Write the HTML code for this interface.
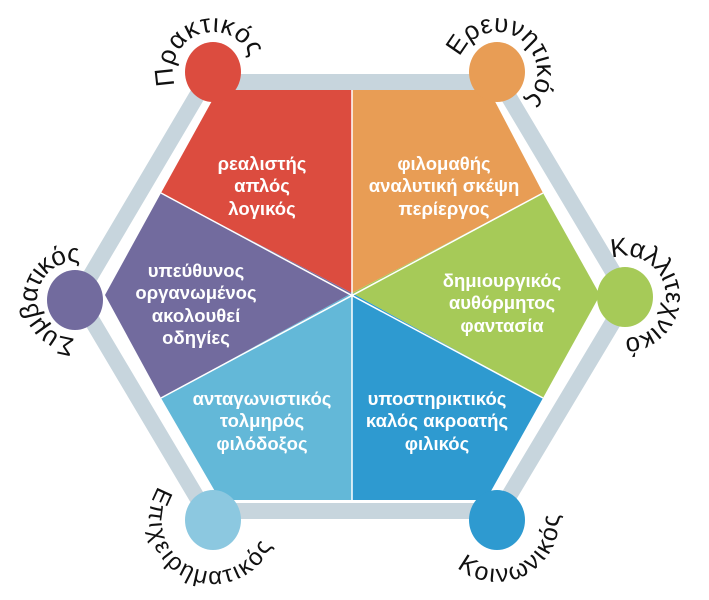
<!DOCTYPE html>
<html><head><meta charset="utf-8"><style>
html,body{margin:0;padding:0;background:#fff;}
svg{display:block;}
.c{font-family:"Liberation Sans",sans-serif;font-weight:bold;font-size:18.5px;fill:#fff;text-anchor:middle;}
.l{font-family:"Liberation Sans",sans-serif;font-size:26px;fill:#111;}
</style></head><body>
<svg width="709" height="600" viewBox="0 0 709 600" xmlns="http://www.w3.org/2000/svg">
<defs>
<path id="pR" d="M213,112 A40,40 0 1 1 213,32 A40,40 0 1 1 213,112"/>
<path id="pO" d="M497,112 A40,40 0 1 1 497,32 A40,40 0 1 1 497,112"/>
<path id="pP" d="M75,338 A38,38 0 1 1 75,262 A38,38 0 1 1 75,338"/>
<path id="pG" d="M625,338 A41,41 0 1 1 625,256 A41,41 0 1 1 625,338"/>
<path id="pL" d="M213,456 A64,64 0 1 0 213,584 A64,64 0 1 0 213,456"/>
<path id="pB" d="M497,458 A62,62 0 1 0 497,582 A62,62 0 1 0 497,458"/>
</defs>
<polygon points="205,82 500,82 628,297 500,511 205,511 78,297" fill="none" stroke="#c7d5dd" stroke-width="16" stroke-linejoin="miter"/>
<polygon points="218,90 352,90 352,293 161,193" fill="#dc4c3f"/>
<polygon points="352,90 489,90 543,193 352,293" fill="#e89d55"/>
<polygon points="543,193 600,295 543,398 352,293" fill="#a6ca58"/>
<polygon points="543,398 486,500 352,500 352,293" fill="#2e9ad0"/>
<polygon points="352,293 352,500 220,500 161,398" fill="#63b8d8"/>
<polygon points="161,398 105,295 161,193 352,293" fill="#726b9e"/>
<g stroke="#fff" stroke-width="1.5">
<line x1="352" y1="90" x2="352" y2="500"/>
<line x1="161" y1="193" x2="543" y2="398"/>
<line x1="161" y1="398" x2="543" y2="193"/>
</g>
<ellipse cx="213" cy="72" rx="28" ry="30" fill="#dc4c3f"/>
<ellipse cx="497" cy="72" rx="28" ry="30" fill="#e89d55"/>
<ellipse cx="75" cy="300" rx="28" ry="30" fill="#726b9e"/>
<ellipse cx="625" cy="297" rx="28" ry="30" fill="#a6ca58"/>
<ellipse cx="213" cy="520" rx="28" ry="30" fill="#8cc8e0"/>
<ellipse cx="497" cy="520" rx="28" ry="30" fill="#2e9ad0"/>

<text class="l"><textPath href="#pR" startOffset="49" textLength="124" lengthAdjust="spacing">Πρακτικός</textPath></text>
<text class="l"><textPath href="#pO" startOffset="78" textLength="142" lengthAdjust="spacing">Ερευνητικός</textPath></text>
<text class="l"><textPath href="#pP" startOffset="0" textLength="124" lengthAdjust="spacing">Συμβατικός</textPath></text>
<text class="l"><textPath href="#pG" startOffset="115" textLength="155" lengthAdjust="spacing">Καλλιτεχνικός</textPath></text>
<text class="l" style="font-size:24px"><textPath href="#pL" startOffset="65" textLength="210" lengthAdjust="spacing">Επιχειρηματικός</textPath></text>
<text class="l" style="font-size:25px"><textPath href="#pB" startOffset="151" textLength="146" lengthAdjust="spacing">Κοινωνικός</textPath></text>

<text class="c" x="262" y="170">ρεαλιστής</text>
<text class="c" x="262" y="192">απλός</text>
<text class="c" x="262" y="215">λογικός</text>
<text class="c" x="444" y="170">φιλομαθής</text>
<text class="c" x="444" y="192">αναλυτική σκέψη</text>
<text class="c" x="444" y="215">περίεργος</text>
<text class="c" x="196" y="277">υπεύθυνος</text>
<text class="c" x="196" y="299">οργανωμένος</text>
<text class="c" x="196" y="322">ακολουθεί</text>
<text class="c" x="196" y="344">οδηγίες</text>
<text class="c" x="502" y="287">δημιουργικός</text>
<text class="c" x="502" y="309">αυθόρμητος</text>
<text class="c" x="502" y="332">φαντασία</text>
<text class="c" x="262" y="405">ανταγωνιστικός</text>
<text class="c" x="262" y="427">τολμηρός</text>
<text class="c" x="262" y="450">φιλόδοξος</text>
<text class="c" x="437" y="405">υποστηρικτικός</text>
<text class="c" x="437" y="427">καλός ακροατής</text>
<text class="c" x="437" y="450">φιλικός</text>
</svg>
</body></html>
